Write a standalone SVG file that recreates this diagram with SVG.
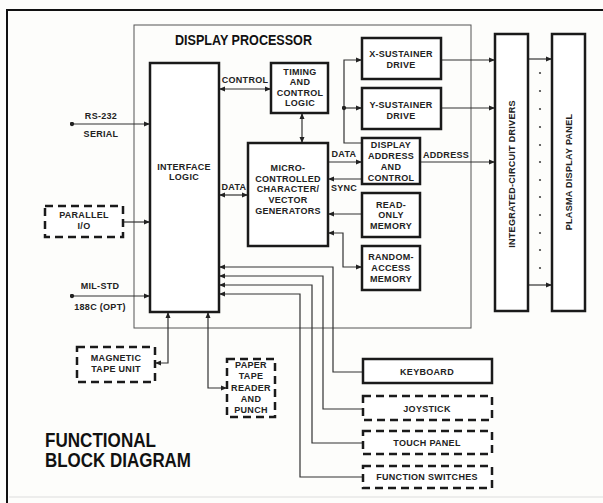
<svg xmlns="http://www.w3.org/2000/svg" width="603" height="503" viewBox="0 0 603 503">
<style>
.bx{fill:#fff;stroke:#1a1a1a;stroke-width:2.5}
.dx{fill:#fff;stroke:#1a1a1a;stroke-width:2.5;stroke-dasharray:8 5}
.c{fill:none;stroke:#333;stroke-width:1.2}
.t{font-family:"Liberation Sans",Arial,sans-serif;font-weight:bold;font-size:9px;letter-spacing:0.3px;fill:#222;text-anchor:middle}
.big{font-family:"Liberation Sans",Arial,sans-serif;font-weight:bold;fill:#111}
</style>
<defs>
<marker id="ah" viewBox="0 0 6 6" refX="6" refY="3" markerWidth="6" markerHeight="6" orient="auto-start-reverse" markerUnits="userSpaceOnUse"><path d="M0,0.5 L6,3 L0,5.5z" fill="#222"/></marker>
<marker id="dot" viewBox="0 0 6 6" refX="3" refY="3" markerWidth="5" markerHeight="5" markerUnits="userSpaceOnUse"><circle cx="3" cy="3" r="2.6" fill="#222"/></marker>
</defs>
<rect width="603" height="503" fill="#fdfdfb"/>
<path id="frame" d="M7,503 V10 H603" fill="none" stroke="#111" stroke-width="2"/>
<path d="M9,497 H603" fill="none" stroke="#ddd" stroke-width="1"/>
<g id="display-processor">
<rect x="134" y="25" width="337" height="303" fill="none" stroke="#555" stroke-width="1"/>
<text class="big" x="175" y="45" font-size="14" textLength="137" lengthAdjust="spacingAndGlyphs">DISPLAY PROCESSOR</text>
</g>
<g id="connectors">
<path class="c" d="M219,89 H271" marker-start="url(#ah)" marker-end="url(#ah)"/>
<path class="c" d="M302,113 V143" marker-start="url(#ah)" marker-end="url(#ah)"/>
<path class="c" d="M219,195 H248" marker-start="url(#ah)" marker-end="url(#ah)"/>
<path class="c" d="M328,162 H362" marker-end="url(#ah)"/>
<path class="c" d="M362,179 H328" marker-end="url(#ah)"/>
<path class="c" d="M362,214 H328" marker-end="url(#ah)"/>
<path class="c" d="M328,233 H343 V267 H362" marker-start="url(#ah)" marker-end="url(#ah)"/>
<path class="c" d="M362,143 H344 V60 H362" marker-end="url(#ah)"/>
<path class="c" d="M344,108 H362" marker-start="url(#dot)" marker-end="url(#ah)"/>
<path class="c" d="M441,60 H495" marker-end="url(#ah)"/>
<path class="c" d="M441,108 H495" stroke="#777" marker-end="url(#ah)"/>
<path class="c" d="M420,162 H495" marker-end="url(#ah)"/>
<path class="c" d="M528,59 H552" marker-end="url(#ah)"/>
<path class="c" d="M528,285 H552" marker-end="url(#ah)"/>
<path class="c" d="M72,124 H150" marker-start="url(#dot)" marker-end="url(#ah)"/>
<path class="c" d="M123,222 H150" marker-end="url(#ah)"/>
<path class="c" d="M72,296 H150" marker-start="url(#dot)" marker-end="url(#ah)"/>
<path class="c" d="M155,363 H168 V312" marker-start="url(#ah)" marker-end="url(#ah)"/>
<path class="c" d="M227,388 H208 V312" marker-start="url(#ah)" marker-end="url(#ah)"/>
<path class="c" d="M219,267 H333 V372 H363" marker-start="url(#ah)"/>
<path class="c" d="M219,276 H323 V409 H363" marker-start="url(#ah)"/>
<path class="c" d="M219,285 H312 V443 H363" marker-start="url(#ah)"/>
<path class="c" d="M219,294 H300 V477 H363" marker-start="url(#ah)"/>
<g fill="#444">
<circle cx="540" cy="73" r="1.1"/><circle cx="540" cy="91" r="1.1"/><circle cx="540" cy="109" r="1.1"/><circle cx="540" cy="127" r="1.1"/><circle cx="540" cy="145" r="1.1"/><circle cx="540" cy="162" r="1.1"/><circle cx="540" cy="180" r="1.1"/><circle cx="540" cy="197" r="1.1"/><circle cx="540" cy="215" r="1.1"/><circle cx="540" cy="233" r="1.1"/><circle cx="540" cy="250" r="1.1"/><circle cx="540" cy="268" r="1.1"/>
</g>
<text class="t" x="245" y="83">CONTROL</text>
<text class="t" x="234" y="190">DATA</text>
<text class="t" x="344" y="157">DATA</text>
<text class="t" x="344" y="191">SYNC</text>
<text class="t" x="446" y="158">ADDRESS</text>
<text class="t" x="101" y="119">RS-232</text>
<text class="t" x="101" y="137">SERIAL</text>
<text class="t" x="100" y="289">MIL-STD</text>
<text class="t" x="100" y="310">188C (OPT)</text>
</g>
<g id="interface-logic">
<rect class="bx" x="150" y="63" width="69" height="249"/>
<text class="t" x="184" y="170">INTERFACE</text>
<text class="t" x="184" y="180">LOGIC</text>
</g>
<g id="timing">
<rect class="bx" x="271" y="63" width="57" height="50"/>
<text class="t" x="300" y="75">TIMING</text>
<text class="t" x="300" y="85">AND</text>
<text class="t" x="300" y="96">CONTROL</text>
<text class="t" x="300" y="106">LOGIC</text>
</g>
<g id="micro">
<rect class="bx" x="248" y="143" width="80" height="103"/>
<text class="t" x="288" y="171">MICRO-</text>
<text class="t" x="288" y="182">CONTROLLED</text>
<text class="t" x="288" y="192">CHARACTER/</text>
<text class="t" x="288" y="203">VECTOR</text>
<text class="t" x="288" y="214">GENERATORS</text>
</g>
<g id="x-sustainer">
<rect class="bx" x="362" y="38" width="79" height="41"/>
<text class="t" x="401" y="57">X-SUSTAINER</text>
<text class="t" x="401" y="68">DRIVE</text>
</g>
<g id="y-sustainer">
<rect class="bx" x="362" y="88" width="79" height="41"/>
<text class="t" x="401" y="108">Y-SUSTAINER</text>
<text class="t" x="401" y="119">DRIVE</text>
</g>
<g id="display-address">
<rect class="bx" x="362" y="138" width="58" height="46"/>
<text class="t" x="391" y="148">DISPLAY</text>
<text class="t" x="391" y="159">ADDRESS</text>
<text class="t" x="391" y="170">AND</text>
<text class="t" x="391" y="181">CONTROL</text>
</g>
<g id="rom">
<rect class="bx" x="362" y="193" width="58" height="44"/>
<text class="t" x="391" y="208">READ-</text>
<text class="t" x="391" y="218">ONLY</text>
<text class="t" x="391" y="229">MEMORY</text>
</g>
<g id="ram">
<rect class="bx" x="362" y="246" width="58" height="44"/>
<text class="t" x="391" y="260">RANDOM-</text>
<text class="t" x="391" y="271">ACCESS</text>
<text class="t" x="391" y="282">MEMORY</text>
</g>
<g id="ic-drivers">
<rect class="bx" x="495" y="34" width="33" height="277"/>
<text class="t" transform="translate(515,174) rotate(-90)">INTEGRATED-CIRCUIT DRIVERS</text>
</g>
<g id="plasma-panel">
<rect class="bx" x="552" y="34" width="33" height="277"/>
<text class="t" transform="translate(572,172) rotate(-90)">PLASMA DISPLAY PANEL</text>
</g>
<g id="parallel-io">
<rect class="dx" x="45" y="206" width="78" height="31"/>
<text class="t" x="84" y="218">PARALLEL</text>
<text class="t" x="84" y="229">I/O</text>
</g>
<g id="mag-tape">
<rect class="dx" x="77" y="347" width="78" height="35"/>
<text class="t" x="116" y="361">MAGNETIC</text>
<text class="t" x="116" y="372">TAPE UNIT</text>
</g>
<g id="paper-tape">
<rect class="dx" x="227" y="359" width="48" height="58"/>
<text class="t" x="251" y="368">PAPER</text>
<text class="t" x="251" y="379">TAPE</text>
<text class="t" x="251" y="391">READER</text>
<text class="t" x="251" y="402">AND</text>
<text class="t" x="251" y="413">PUNCH</text>
</g>
<g id="keyboard">
<rect class="bx" x="363" y="359" width="129" height="24"/>
<text class="t" x="427" y="375">KEYBOARD</text>
</g>
<g id="joystick">
<rect class="dx" x="363" y="396" width="129" height="24"/>
<text class="t" x="427" y="412">JOYSTICK</text>
</g>
<g id="touch-panel">
<rect class="dx" x="363" y="431" width="129" height="23"/>
<text class="t" x="427" y="446">TOUCH PANEL</text>
</g>
<g id="function-switches">
<rect class="dx" x="363" y="466" width="129" height="22"/>
<text class="t" x="427" y="480">FUNCTION SWITCHES</text>
</g>
<g id="title">
<text class="big" x="45" y="447" font-size="20" textLength="111" lengthAdjust="spacingAndGlyphs">FUNCTIONAL</text>
<text class="big" x="45" y="467" font-size="20" textLength="146" lengthAdjust="spacingAndGlyphs">BLOCK DIAGRAM</text>
</g>
</svg>
